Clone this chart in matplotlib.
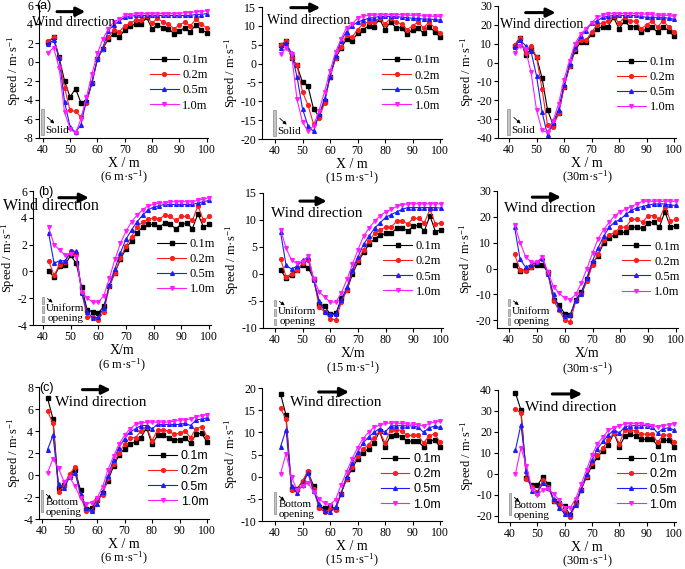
import matplotlib
matplotlib.use("Agg")
import matplotlib.pyplot as plt
import matplotlib.transforms as mtransforms
from matplotlib.patches import Rectangle

plt.rcParams["font.family"] = "Liberation Serif"
plt.rcParams["mathtext.fontset"] = "custom"
plt.rcParams["mathtext.rm"] = "Liberation Serif"
plt.rcParams["mathtext.it"] = "Liberation Serif:italic"
plt.rcParams["axes.unicode_minus"] = False

# ── Data: X position (m) and speed (m/s) at 4 heights ─────────────────────────
X = [42, 44, 46, 48, 50, 52, 54, 56, 58, 60, 62, 64, 66, 68, 70,
     72, 74, 76, 78, 80, 82, 84, 86, 88, 90, 92, 94, 96, 98, 100]
HEIGHTS = ["0.1m", "0.2m", "0.5m", "1.0m"]

solid_6 = [
    [2.1, 2.6, 0.5, -2.0, -3.7, -2.8, -4.3, -4.2, -2.2, 0.3, 1.4, 2.4, 3.0, 2.6, 3.4,
     3.8, 4.0, 4.0, 4.7, 3.5, 3.9, 3.6, 3.5, 3.0, 3.3, 3.6, 3.2, 3.9, 3.4, 3.1],
    [2.2, 2.6, 0.4, -2.7, -5.1, -5.2, -5.8, -4.3, -2.2, 0.3, 1.4, 2.6, 3.4, 3.2, 3.8,
     4.1, 4.4, 4.4, 4.8, 4.1, 4.6, 4.2, 4.0, 3.5, 3.9, 4.2, 3.8, 4.5, 4.0, 3.6],
    [1.9, 2.3, 0.4, -4.2, -6.8, -7.4, -6.6, -4.0, -2.2, 0.3, 1.5, 3.3, 3.9, 4.3, 4.7,
     4.8, 4.9, 4.9, 4.9, 4.9, 4.9, 4.9, 4.9, 4.9, 4.9, 4.9, 4.9, 5.0, 5.0, 5.1],
    [1.0, 1.5, -0.6, -5.3, -7.0, -7.5, -6.0, -3.7, -1.3, 0.9, 2.4, 3.5, 4.2, 4.5, 4.9,
     5.0, 5.1, 5.1, 5.1, 5.1, 5.1, 5.1, 5.1, 5.1, 5.1, 5.2, 5.2, 5.3, 5.3, 5.4],
]
solid_15 = [
    [4.8, 6.0, 1.5, -0.5, -5.0, -6.0, -12.0, -14.0, -10.0, -3.5, 1.5, 4.0, 6.5, 6.0, 8.0,
     9.0, 10.0, 9.8, 11.8, 9.0, 11.0, 9.5, 9.5, 7.8, 9.0, 9.5, 8.0, 9.8, 8.5, 7.0],
    [4.8, 6.0, 1.5, -0.5, -7.5, -11.0, -16.0, -14.5, -10.5, -3.5, 1.5, 4.5, 7.5, 7.0, 9.0,
     10.5, 11.0, 11.0, 12.0, 10.5, 12.0, 11.0, 10.5, 9.0, 10.0, 11.0, 9.5, 11.0, 9.5, 8.0],
    [4.0, 5.5, 2.8, -3.5, -12.0, -16.5, -18.0, -13.5, -9.5, -3.5, 2.0, 6.0, 8.5, 10.0, 11.0,
     11.5, 12.0, 12.2, 12.5, 12.5, 12.5, 12.5, 12.3, 12.2, 12.0, 12.0, 11.8, 11.8, 11.7, 11.5],
    [2.5, 4.0, 2.5, -9.5, -15.5, -18.0, -16.5, -12.5, -7.5, -2.0, 3.0, 6.5, 9.5, 10.5, 12.0,
     12.5, 12.8, 12.8, 13.0, 13.0, 13.0, 13.0, 13.0, 12.8, 12.8, 12.8, 12.6, 12.6, 12.5, 12.5],
]
solid_30 = [
    [9, 13, 4, 7, 3, -8, -25, -33, -27, -13, -2, 6, 11, 11, 15,
     18, 19, 19, 24, 18, 22, 19, 19, 16, 18, 19, 16, 19, 17, 14],
    [9.5, 13, 5, 9, 3, -14, -33, -34, -27, -13, -2, 7, 12, 12, 16,
     20, 21, 22, 24.5, 21, 24, 22, 22, 18, 20, 22, 19, 22, 19, 16],
    [8, 12, 9, 6, -7, -26, -38.5, -32, -25, -12, -1, 8, 14, 17, 21,
     22, 24, 24.5, 25, 25, 25, 25, 25, 24.5, 24, 24, 24, 24, 23.5, 23],
    [5, 9, 7, -5, -25, -36, -37, -31, -22, -9, 1, 10, 15, 18, 21,
     24, 25, 26, 26, 26, 26, 26, 26, 26, 25.5, 25.5, 25, 25, 25, 24.5],
]
uniform_6 = [
    [0.0, -0.4, 0.4, 0.5, 1.2, 0.6, -1.2, -2.9, -3.0, -3.1, -2.6, -1.1, -0.1, 0.9, 1.7,
     2.3, 2.9, 3.3, 3.5, 3.5, 3.3, 3.6, 3.5, 3.2, 3.5, 3.6, 3.2, 4.3, 3.3, 3.5],
    [0.8, -0.3, 0.5, 0.7, 1.5, 1.3, -1.6, -3.4, -3.4, -3.6, -3.0, -1.1, -0.1, 1.0, 1.9,
     2.6, 3.3, 3.7, 3.9, 4.0, 3.9, 4.2, 4.1, 3.8, 4.1, 4.1, 3.8, 4.9, 3.8, 4.1],
    [2.9, 0.6, 0.8, 0.8, 1.5, 1.5, -1.6, -3.0, -3.5, -3.4, -2.7, -1.0, 0.2, 1.4, 2.4,
     3.1, 3.7, 4.2, 4.6, 4.8, 4.9, 5.0, 5.0, 5.0, 5.0, 5.0, 5.0, 5.1, 5.2, 5.3],
    [3.3, 2.0, 1.6, 1.2, 1.3, 1.1, -1.5, -2.0, -2.3, -2.3, -1.8, -0.5, 0.9, 2.1, 3.0,
     3.7, 4.2, 4.6, 4.9, 5.0, 5.1, 5.1, 5.2, 5.2, 5.2, 5.2, 5.2, 5.3, 5.4, 5.5],
]
uniform_15 = [
    [0.8, -0.8, -0.2, 0.8, 1.6, 1.2, -1.0, -5.5, -6.0, -7.5, -7.3, -4.5, -3.0, 0.0, 2.2,
     4.0, 5.5, 6.5, 7.2, 7.5, 7.5, 8.5, 8.5, 8.0, 8.8, 9.0, 8.0, 10.8, 7.8, 8.2],
    [2.8, -0.5, 0.0, 0.8, 2.0, 2.5, -1.0, -6.2, -7.0, -8.3, -8.5, -5.2, -3.0, 0.5, 2.5,
     4.5, 6.2, 7.5, 8.2, 8.7, 8.7, 9.8, 9.8, 9.3, 10.3, 10.3, 9.5, 12.0, 9.2, 9.5],
    [7.8, 1.6, 0.9, 1.5, 2.5, 3.2, -1.2, -5.0, -7.0, -7.5, -7.5, -4.8, -2.5, 0.8, 3.2,
     5.5, 7.0, 8.5, 9.5, 10.5, 11.0, 11.5, 12.0, 12.3, 12.3, 12.3, 12.3, 12.3, 12.3, 12.2],
    [8.2, 4.8, 2.5, 2.0, 2.3, 3.3, -1.0, -3.3, -4.3, -5.2, -5.2, -3.5, -1.0, 1.8, 4.5,
     7.0, 8.5, 9.8, 10.8, 11.5, 12.0, 12.5, 12.8, 13.0, 13.0, 13.0, 13.0, 13.0, 13.0, 13.0],
]
uniform_30 = [
    [1.5, -1.0, -0.5, 0.5, 1.5, 1.5, -1.5, -12, -14, -17.5, -18, -12, -9, -4, 2,
     5, 10, 12, 13, 14, 14, 16, 16, 15.5, 17.5, 18, 16, 22, 16, 16.5],
    [5.5, -0.5, -1.0, 0.5, 2.5, 3.5, -2.0, -12.5, -16, -20, -20.5, -12.5, -10, -5, 1.5,
     5.5, 11, 13, 14, 16, 16, 19, 19, 18, 20.5, 20.5, 19, 24, 18.5, 19],
    [16, 3.5, 0.5, 1.5, 2.5, 4.0, -2.0, -10, -15.5, -18.5, -18, -12, -10, -3.5, 3,
     8, 12.5, 16, 18, 19, 21, 22.5, 23.5, 24, 24.5, 25, 25, 25, 24.5, 24.5],
    [17, 10, 4.5, 2.5, 2.5, 4.5, -1.5, -7, -9.5, -11.5, -12, -10, -5.5, 0, 6,
     11.5, 15, 18, 20.5, 22, 23, 24, 25, 26, 26, 26, 26, 26, 26, 26],
]
bottom_6 = [
    [7.0, 5.1, -1.2, -0.9, 0.0, 0.5, -1.4, -3.1, -3.0, -2.3, -1.6, -0.5, 0.8, 1.8, 2.4,
     2.8, 3.0, 3.4, 4.3, 2.8, 3.6, 3.6, 3.4, 3.2, 3.2, 3.4, 2.9, 3.7, 3.8, 3.0],
    [5.8, 4.7, -1.5, -1.0, 0.1, 0.7, -1.9, -3.3, -3.3, -2.3, -1.8, -0.3, 1.0, 2.0, 2.8,
     3.4, 3.4, 4.0, 4.4, 3.1, 4.1, 4.1, 4.0, 3.7, 3.8, 4.0, 3.4, 4.2, 4.4, 3.5],
    [2.3, 3.6, -0.8, -1.2, -0.2, 0.2, -1.7, -3.0, -3.3, -2.6, -1.5, -0.1, 1.4, 2.5, 3.3,
     3.9, 4.2, 4.5, 4.5, 4.2, 4.6, 4.6, 4.6, 4.6, 4.6, 4.7, 4.5, 5.0, 5.1, 5.2],
    [0.2, 1.5, 0.6, -0.6, -0.2, -1.0, -2.1, -2.6, -2.5, -2.1, -1.1, 0.5, 1.7, 2.8, 3.6,
     4.2, 4.6, 4.7, 4.8, 4.8, 4.8, 4.8, 4.8, 4.9, 5.0, 5.0, 5.1, 5.3, 5.4, 5.5],
]
bottom_15 = [
    [18.7, 13.9, -2.8, -2.7, -1.1, 1.0, -2.0, -6.9, -7.0, -6.7, -7.3, -3.8, -0.6, 1.8, 4.0,
     5.4, 6.3, 7.6, 10.2, 6.8, 9.2, 9.5, 9.0, 8.0, 8.0, 8.0, 6.7, 8.0, 8.3, 6.7],
    [15.4, 13.0, -3.0, -2.9, -1.0, 1.3, -2.8, -7.0, -8.0, -7.3, -7.6, -3.9, -0.5, 2.2, 4.6,
     6.2, 7.2, 8.8, 10.2, 7.6, 10.6, 10.6, 10.4, 9.3, 9.3, 9.3, 7.6, 9.2, 9.7, 7.8],
    [6.7, 10.6, -2.2, -3.6, -1.8, 0.8, -3.3, -6.1, -7.8, -8.0, -6.8, -3.8, 0.0, 3.0, 5.5,
     7.6, 8.9, 10.0, 10.8, 10.0, 11.4, 11.5, 11.5, 11.5, 11.4, 11.2, 10.0, 11.0, 11.4, 11.1],
    [0.6, 5.2, -0.1, -3.0, -2.0, -1.4, -3.4, -5.0, -6.0, -6.3, -5.2, -1.9, 1.1, 4.0, 6.5,
     8.6, 10.0, 11.2, 11.6, 12.0, 12.1, 12.1, 12.0, 11.9, 11.8, 11.7, 11.4, 12.0, 12.3, 12.5],
]
bottom_30 = [
    [38.5, 30.5, -2, -5.5, -5.5, -1.5, -5, -13, -14, -15.5, -19.5, -13.5, -7.5, -1.5, 4,
     8, 11, 14, 19.5, 13, 18, 19, 18, 16.5, 16.5, 16.5, 13.5, 16, 16, 13],
    [31, 29, -2.5, -6, -8.5, -3, -6, -13, -15, -18, -20.5, -14.5, -7.5, -1, 5,
     9, 12.5, 16, 19.5, 14.5, 21, 21, 20.5, 19, 19, 19, 15, 18.5, 18.5, 15],
    [11.5, 23.5, 1.5, -8, -9, -4.5, -6.5, -12, -16, -19, -19, -15, -7.5, 0, 6.5,
     12, 15.5, 18.5, 21, 19.5, 22.5, 23, 23, 23, 23, 22.5, 19.5, 21.5, 22, 21],
    [0, 12.5, 4, -7, -10, -7.5, -7, -9.5, -12.5, -16, -16, -12, -5, 2, 9,
     14.5, 17.5, 21, 22, 23, 24, 24, 24, 24, 23.5, 23, 22.5, 23, 23.5, 24],
]

COLORS = ["#000000", "#ff1c1c", "#1c1cff", "#ff1cff"]
MARKERS = ["s", "o", "^", "v"]

W, H = 685, 569
fig = plt.figure(figsize=(W / 100, H / 100), dpi=100)

# panel layout in pixels: spine x, x=40 tick, x=100 tick, top, bottom
PANELS = [
    # row (a) solid
    dict(data=solid_6, px=(39, 42.7, 206.7, 5, 138), ylim=(-8, 6), ystep=2,
         speed="(6 m·s$^{-1}$)", row=0, wind=((-0.04, 0.865), 10, (0.09, 0.29, 0.95)),
         leg=(0.655, 0.58), tag="(a)", tagpos=(-0.015, 0.995)),
    dict(data=solid_15, px=(262, 275, 440, 7, 139), ylim=(-20, 15), ystep=5,
         speed="(15 m·s$^{-1}$)", row=0, wind=((0.03, 0.90), 10, (0.145, 0.34, 0.995)),
         leg=(0.67, 0.59)),
    dict(data=solid_30, px=(498, 509, 674, 6, 138), ylim=(-40, 30), ystep=10,
         speed="(30m·s$^{-1}$)", row=0, wind=((0.01, 0.86), 10, (0.14, 0.34, 0.95)),
         leg=(0.67, 0.57)),
    # row (b) uniform opening
    dict(data=uniform_6, px=(33, 43, 209, 191, 325), ylim=(-4, 6), ystep=2,
         speed="(6 m·s$^{-1}$)", row=1, wind=((-0.17, 0.885), 11.5, (0.13, 0.33, 0.95)),
         leg=(0.70, 0.60), tag="(b)", tagpos=(0.03, 0.99)),
    dict(data=uniform_15, px=(263, 275, 441, 193, 328), ylim=(-10, 15), ystep=5,
         speed="(15 m·s$^{-1}$)", row=1, wind=((0.045, 0.85), 11, (0.19, 0.37, 0.94)),
         leg=(0.67, 0.60)),
    dict(data=uniform_30, px=(497, 509, 676, 191, 328), ylim=(-23, 30), ystep=10,
         speed="(30m·s$^{-1}$)", row=1, wind=((0.04, 0.87), 11, (0.18, 0.37, 0.955)),
         leg=(0.69, 0.59)),
    # row (c) bottom opening
    dict(data=bottom_6, px=(39, 42, 207, 387, 519), ylim=(-4, 8), ystep=2,
         speed="(6 m·s$^{-1}$)", row=2, wind=((0.095, 0.88), 11, (0.24, 0.44, 0.98)),
         leg=(0.645, 0.47), tag="(c)", tagpos=(0.0, 0.995)),
    dict(data=bottom_15, px=(262, 275, 440, 388, 521), ylim=(-10, 20), ystep=5,
         speed="(15 m·s$^{-1}$)", row=2, wind=((0.155, 0.89), 11, (0.30, 0.50, 0.97)),
         leg=(0.66, 0.46)),
    dict(data=bottom_30, px=(498, 510, 674, 390, 522), ylim=(-22.9, 40), ystep=10,
         speed="(30m·s$^{-1}$)", row=2, wind=((0.15, 0.87), 11, (0.29, 0.49, 0.97)),
         leg=(0.67, 0.47)),
]

GRAY = "#c4c4c4"


def draw_icon(ax, row):
    trans = mtransforms.blended_transform_factory(ax.transData, ax.transAxes)
    kw = dict(transform=trans, facecolor=GRAY, edgecolor="#8c8c8c", lw=0.5, clip_on=False)
    arrow = dict(arrowstyle="-|>", lw=0.6, color="k", mutation_scale=5)
    if row == 0:
        ax.add_patch(Rectangle((39.4, 0.02), 1.0, 0.20, **kw))
        ax.annotate("", xy=(45.0, 0.095), xytext=(41.0, 0.17), xycoords=trans,
                    textcoords=trans, arrowprops=arrow)
        ax.text(40.9, 0.055, "Solid", transform=trans, fontsize=8, va="center")
    elif row == 1:
        for y0 in (0.16, 0.09, 0.02):
            ax.add_patch(Rectangle((39.5, y0), 0.9, 0.05, **kw))
        ax.annotate("", xy=(44.3, 0.155), xytext=(40.8, 0.21), xycoords=trans,
                    textcoords=trans, arrowprops=arrow)
        ax.text(41.1, 0.12, "Uniform", transform=trans, fontsize=8, va="center")
        ax.text(41.7, 0.045, "opening", transform=trans, fontsize=8, va="center")
    else:
        ax.add_patch(Rectangle((39.5, 0.055), 1.0, 0.165, **kw))
        ax.annotate("", xy=(44.2, 0.14), xytext=(40.8, 0.20), xycoords=trans,
                    textcoords=trans, arrowprops=arrow)
        ax.text(41.5, 0.125, "Bottom", transform=trans, fontsize=8, va="center")
        ax.text(41.3, 0.05, "opening", transform=trans, fontsize=8, va="center")


for p in PANELS:
    spine, x40, x100, top, bot = p["px"]
    ppu = (x100 - x40) / 60.0
    right = x100 + 0.6 * ppu
    wpx = right - spine
    hpx = bot - top
    ax = fig.add_axes([spine / W, 1 - bot / H, wpx / W, hpx / H])
    ax.set_xlim(40 - (x40 - spine) / ppu, 100.6)
    ax.set_ylim(*p["ylim"])

    for vals, lab, c, m in zip(p["data"], HEIGHTS, COLORS, MARKERS):
        ax.plot(X, vals, color=c, marker=m, ms=2.7, lw=0.8, label=lab, clip_on=False)

    ax.spines["top"].set_visible(False)
    ax.spines["right"].set_visible(False)
    for s in ("left", "bottom"):
        ax.spines[s].set_linewidth(0.8)
    ax.set_xticks([40, 50, 60, 70, 80, 90, 100])
    lo, hi = p["ylim"]
    step = p["ystep"]
    start = int(-(-lo // step)) * step
    ax.set_yticks(list(range(int(start), int(hi) + 1, step)))
    ax.tick_params(direction="out", length=3, width=0.8, labelsize=8.5, pad=1.2)

    ax.set_ylabel("Speed / m·s$^{-1}$", fontsize=9, labelpad=0.5)
    ax.set_xlabel("X/m" if p["row"] == 1 else "X / m", fontsize=10, labelpad=0.5)
    ax.text(0.5, -0.30, p["speed"], transform=ax.transAxes, ha="center",
            va="center", fontsize=9)

    (tx, ty), fs, (ax0, ax1, ay) = p["wind"]
    ax.text(tx, ty, "Wind direction", transform=ax.transAxes, fontsize=fs,
            va="center", ha="left")
    ax.annotate("", xy=(ax1, ay), xytext=(ax0, ay), xycoords="axes fraction",
                textcoords="axes fraction",
                arrowprops=dict(arrowstyle="-|>", lw=2.2, color="k", mutation_scale=13))

    if "tag" in p:
        ax.text(p["tagpos"][0], p["tagpos"][1], p["tag"], transform=ax.transAxes,
                fontsize=9, family="Liberation Sans", va="center", ha="left")

    lx, ly = p["leg"]
    prop = {"family": "Liberation Sans" if p["row"] == 2 else "Liberation Serif",
            "size": 9}
    ax.legend(loc="center left", bbox_to_anchor=(lx, ly - 1.5 * 14.7 / hpx),
              frameon=False, prop=prop, handlelength=2.3, handletextpad=0.3,
              labelspacing=0.25, borderpad=0, borderaxespad=0)

    draw_icon(ax, p["row"])

fig.savefig("out.png", dpi=100)
